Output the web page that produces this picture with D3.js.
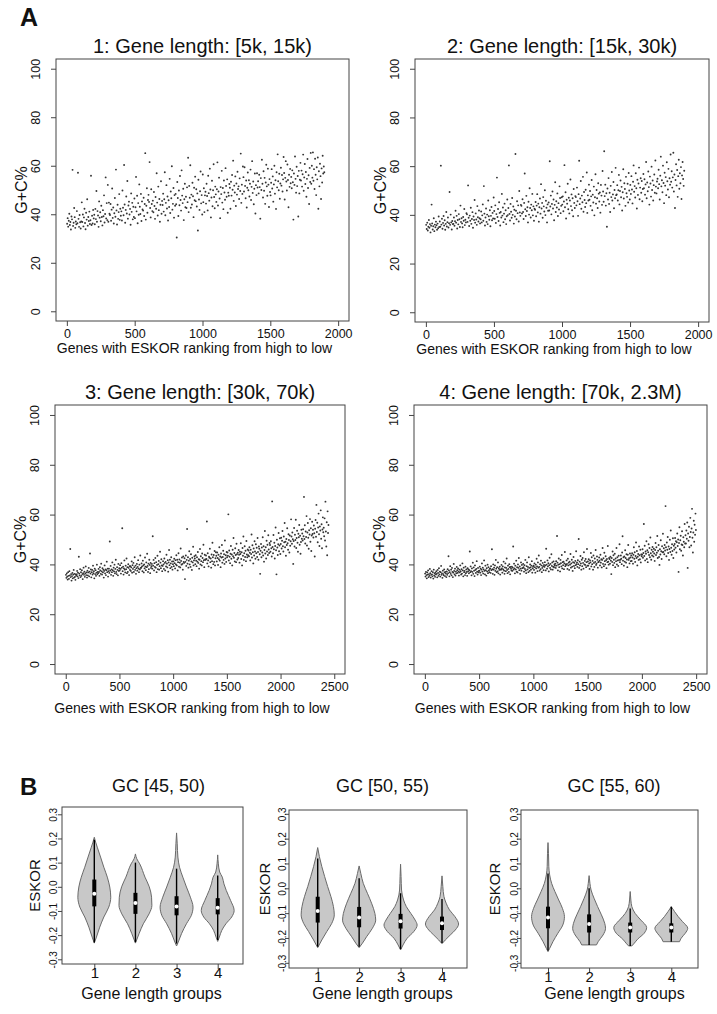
<!DOCTYPE html>
<html>
<head>
<meta charset="utf-8">
<title>G+C% by ESKOR ranking</title>
<script src="https://d3js.org/d3.v7.min.js"></script>
<style>
  body { margin: 0; background: #fff; }
  text { font-family: "Liberation Sans", Arial, Helvetica, sans-serif; fill: #111; }
</style>
</head>
<body>
<div id="fig"></div>
<script>
// ---------------- panel A data ----------------
// G+C% of genes in ESKOR rank order (high to low), read off every 4th gene
var rankStep = 4
var yTicksA = [0, 20, 40, 60, 80, 100]
var gc1 = [
36.1,38.4,34.9,37.3,40.2,35.6,36.8,33.7,39.1,37.9,58.3,35.2,36.5,42.6,38.8,34.4,37.0,35.9,41.3,36.3,57.1,38.1,34.8,39.7,36.7,
34.1,37.0,44.9,36.8,39.9,35.0,38.7,42.3,36.4,33.8,40.6,37.8,46.2,35.3,38.9,37.2,41.1,36.0,37.5,55.9,35.6,39.4,36.2,41.8,38.3,
39.8,35.9,42.2,38.0,49.6,36.9,41.3,39.5,34.8,45.3,38.6,40.8,37.1,43.5,38.9,35.4,41.7,39.2,47.8,36.6,40.1,55.2,38.3,44.6,37.6,
52.1,36.9,44.8,40.2,39.7,44.2,37.3,41.9,50.6,38.5,42.8,36.2,40.4,46.7,39.0,58.4,41.6,35.8,43.9,38.1,40.9,48.3,37.7,42.3,39.4,
41.2,37.4,49.8,42.7,39.6,60.3,44.0,36.5,41.8,47.3,40.3,53.7,38.2,43.6,45.2,39.9,42.2,35.7,48.6,41.0,44.7,37.9,43.1,38.9,46.5,
38.4,42.9,55.4,41.2,47.6,36.3,44.6,39.8,52.3,43.1,40.1,48.4,37.2,45.3,42.0,41.5,46.8,39.3,44.2,65.2,37.8,43.5,50.7,40.6,45.9,
48.0,45.1,61.5,42.6,38.7,50.3,44.2,41.3,45.6,40.8,49.2,43.4,38.1,47.1,42.3,56.9,44.8,39.5,51.4,41.7,46.3,36.9,43.9,53.6,40.2,
45.5,43.8,48.5,41.1,46.2,57.3,39.6,44.7,52.0,42.4,47.3,37.4,45.8,43.0,54.6,40.5,49.4,46.6,59.8,41.9,44.3,50.8,38.6,47.9,43.5,
48.4,44.1,30.4,53.3,46.7,39.3,49.8,43.7,55.8,45.9,41.5,58.1,47.7,44.6,50.5,37.6,46.2,52.6,42.9,47.2,42.6,51.1,45.0,63.3,40.9,
51.7,46.8,60.2,42.7,48.1,44.0,53.0,47.4,38.8,50.9,45.8,55.5,45.4,50.3,43.2,48.6,33.3,54.2,46.1,41.8,49.5,57.6,44.5,47.9,39.9,
56.4,45.0,50.7,40.9,47.8,49.3,44.4,52.6,47.5,41.6,55.9,48.7,45.6,58.8,50.2,38.7,46.9,53.8,43.3,49.9,60.6,47.1,42.5,51.4,48.2,
45.1,50.3,61.4,43.6,49.4,55.1,46.5,38.4,51.2,48.3,57.9,44.8,50.8,42.1,53.9,49.0,46.0,59.0,51.7,47.2,54.4,40.6,48.9,47.6,52.5,
50.9,42.3,53.4,47.7,56.2,50.1,62.1,45.5,51.8,49.0,55.6,43.4,52.7,48.1,57.5,50.4,51.5,46.3,54.8,49.6,65.0,44.7,52.2,48.4,59.7,
55.3,49.4,59.4,51.7,46.6,53.9,42.8,50.9,57.2,49.9,54.0,47.3,52.6,58.4,45.9,51.3,61.9,48.8,53.5,44.1,50.5,56.8,40.3,52.0,47.9,
56.9,51.0,53.6,48.6,56.3,51.2,38.2,54.9,50.0,62.5,52.6,46.9,57.7,49.7,55.0,44.3,53.1,60.4,51.5,47.6,58.8,52.2,43.0,54.5,49.2,
47.8,53.0,58.6,50.6,55.6,45.2,52.3,60.0,48.5,54.0,42.2,57.3,51.1,64.7,53.6,49.9,56.7,46.4,52.7,59.2,51.8,56.2,49.4,54.4,63.6,
57.0,46.1,55.0,61.9,53.5,49.8,60.5,54.1,42.9,56.3,51.3,58.7,52.8,55.4,50.7,58.1,53.2,37.8,56.8,52.1,63.8,54.6,48.9,59.6,51.6,
55.8,39.1,57.9,48.6,54.2,61.2,53.9,58.0,51.4,56.5,64.6,49.7,55.2,60.7,52.5,57.4,47.2,54.6,62.8,50.8,56.1,44.2,59.1,53.3,65.3,
52.6,60.0,55.1,65.5,53.8,58.6,50.4,62.9,56.3,47.9,59.4,54.4,63.4,42.3,57.7,51.5,60.8,55.7,46.3,58.9,53.1,64.1,56.8,59.7,57.3]
var gc2 = [
35.9,34.2,36.8,33.6,35.1,37.9,34.7,36.2,32.8,35.5,44.2,36.5,34.0,35.3,38.6,33.3,36.0,34.9,37.2,35.7,33.9,36.4,34.5,39.3,35.0,
37.3,35.1,60.2,36.0,38.4,34.3,36.7,39.5,35.6,37.8,33.9,36.3,41.2,35.2,37.0,38.9,34.8,36.6,49.4,35.9,40.1,36.9,34.0,37.5,36.2,
36.3,38.9,35.5,37.4,41.7,36.8,39.6,34.4,37.9,36.1,40.3,38.2,35.0,43.8,37.1,38.6,36.5,34.9,39.1,37.6,42.4,35.8,38.0,36.9,40.7,
40.2,37.1,52.1,38.8,35.4,39.7,37.6,42.9,36.3,38.3,41.1,34.7,39.3,37.9,46.1,36.8,40.6,38.1,35.9,43.6,39.0,37.3,41.8,38.6,36.5,
38.2,41.4,36.9,39.8,44.3,37.6,51.8,40.5,35.6,38.9,42.6,37.1,40.1,36.2,45.9,39.4,38.0,41.9,35.3,39.6,43.2,37.8,40.8,38.5,47.1,
41.6,38.4,43.9,36.7,40.3,55.3,39.1,42.4,37.5,45.2,40.8,35.6,41.2,38.9,48.6,39.7,43.0,37.0,40.5,44.6,38.2,41.9,36.2,39.4,46.3,
39.9,42.8,60.3,40.4,37.7,44.5,41.3,38.8,46.9,40.0,43.4,36.4,42.1,39.3,65.0,41.7,38.2,45.6,40.7,43.9,37.3,49.8,41.0,39.6,44.1,
43.7,40.6,46.4,41.2,38.3,44.9,57.0,42.3,39.5,47.8,41.6,43.1,36.9,45.4,40.1,50.9,42.8,38.9,44.2,41.9,48.6,39.8,43.5,37.6,42.5,
42.1,45.3,39.4,43.8,48.5,41.0,44.6,37.2,43.1,46.7,40.5,52.6,42.6,44.9,38.8,47.3,43.5,41.4,50.1,39.9,45.8,42.9,36.9,44.3,41.7,
45.1,41.8,62.0,43.4,47.9,40.2,44.5,49.6,42.6,46.3,37.8,44.1,53.4,41.2,45.6,43.0,48.8,39.5,44.8,42.2,51.7,46.9,40.7,43.7,47.2,
44.2,47.6,41.5,45.5,60.4,43.1,49.3,38.5,46.2,44.6,52.8,42.3,47.0,40.6,45.9,54.5,43.6,48.4,41.9,46.8,39.4,50.6,44.9,42.8,47.7,
47.3,43.9,51.2,45.6,39.6,48.5,62.2,44.4,46.7,53.9,42.5,47.9,45.2,55.6,41.3,49.4,46.1,43.2,50.3,44.8,57.4,40.8,48.0,45.9,52.4,
46.2,49.8,43.7,47.6,54.3,41.9,48.3,45.1,51.6,39.8,47.2,56.7,44.6,50.2,46.8,42.8,53.0,48.7,45.5,49.2,40.9,52.3,47.9,44.1,58.0,
49.6,45.4,66.1,47.7,52.4,43.8,48.9,35.1,50.8,46.3,55.1,44.5,49.1,41.2,51.9,47.3,57.6,45.9,48.4,53.5,42.7,50.2,46.8,59.3,48.1,
48.4,52.2,45.9,50.1,56.4,44.3,49.8,54.1,47.2,51.5,41.8,49.3,58.7,46.7,53.0,50.6,43.7,55.6,48.9,47.4,52.8,45.1,57.2,50.0,46.3,
52.3,48.6,55.9,50.4,44.7,53.6,60.3,49.5,51.8,47.1,57.1,50.9,42.6,54.4,48.2,52.9,59.4,46.4,51.2,55.0,49.1,53.9,45.6,50.6,56.8,
50.9,54.6,48.3,52.5,61.7,46.8,53.3,49.7,57.8,51.4,44.2,55.7,52.9,47.5,59.8,50.2,54.1,45.9,52.2,56.6,49.1,62.3,51.6,48.8,53.7,
54.8,50.9,58.5,52.6,46.3,56.1,63.9,51.7,54.2,49.3,60.2,53.1,44.8,57.3,52.0,55.5,48.1,61.6,53.8,50.4,58.9,47.2,55.0,52.4,64.8,
53.6,57.9,51.2,55.4,65.5,49.6,56.6,42.8,54.3,60.8,52.1,58.4,47.4,55.9,62.6,50.7,57.1,53.0,59.6,46.5,56.2,61.7,54.7,51.9,58.1]
var gc3 = [
35.8,34.6,36.4,35.1,33.9,36.9,35.4,34.2,37.3,35.6,46.2,34.9,36.1,33.5,35.3,36.6,34.4,35.9,37.8,34.7,36.2,35.0,33.8,36.0,35.5,
36.0,37.4,35.2,36.7,34.5,43.1,36.3,35.6,38.1,34.9,36.9,35.4,37.7,36.1,34.1,36.5,38.7,35.8,37.1,35.0,36.4,39.2,35.7,36.8,34.7,
37.5,35.6,36.8,38.6,35.2,37.1,44.4,36.3,38.0,34.8,36.9,37.8,35.9,39.5,36.5,37.3,34.4,38.3,36.1,37.7,35.4,36.7,39.9,36.0,37.0,
36.5,38.2,37.0,35.4,38.9,37.6,36.2,40.3,37.2,35.9,38.5,36.8,37.9,34.7,37.4,39.6,36.4,38.0,35.7,37.7,41.1,36.9,38.3,35.1,37.3,
38.3,36.6,49.2,37.5,39.4,35.8,38.0,36.9,40.8,37.7,35.4,38.7,37.2,39.9,36.4,38.2,41.9,37.0,36.1,38.9,37.8,35.6,40.2,37.4,38.5,
37.6,39.7,38.2,36.3,40.5,38.7,54.5,37.3,39.1,35.9,38.4,41.6,37.9,36.8,39.5,38.1,42.4,36.5,38.9,37.0,40.1,38.6,35.7,39.3,37.8,
39.3,37.4,38.8,41.2,36.7,39.7,38.2,40.6,37.0,38.9,42.9,37.8,39.5,36.2,38.5,40.2,37.5,39.0,41.7,38.3,36.9,39.9,38.0,43.6,38.6,
38.7,40.4,39.2,37.3,41.5,39.6,36.8,40.0,38.4,42.8,39.1,37.7,40.8,38.9,44.3,39.4,37.0,40.3,38.1,41.9,39.8,36.5,40.6,38.6,39.3,
40.2,38.3,51.3,39.5,41.8,37.6,40.5,39.0,42.6,38.7,40.9,36.9,39.8,43.5,38.1,40.1,41.4,37.9,39.3,45.1,40.7,38.5,42.1,39.6,37.3,
39.4,41.3,40.0,38.2,42.4,40.6,37.6,41.0,39.2,43.9,40.3,38.8,41.7,37.1,40.8,45.8,39.7,41.9,38.5,40.4,42.9,39.0,41.2,37.9,40.1,
41.2,39.3,42.3,40.5,38.4,41.7,40.0,43.7,39.6,41.9,37.6,40.9,44.5,39.1,42.0,40.7,38.8,46.4,41.4,39.9,42.8,40.2,37.9,43.2,41.0,
40.6,42.5,34.1,41.0,43.6,39.4,41.8,54.2,40.3,42.9,38.7,41.5,45.3,40.0,42.2,39.0,44.1,41.2,37.8,42.7,40.8,47.1,39.6,41.6,43.3,
42.4,40.1,43.7,41.5,39.3,42.9,41.1,45.0,40.6,42.1,38.3,41.9,46.2,40.0,43.3,41.3,39.6,44.4,42.6,40.9,47.9,41.7,38.9,43.9,42.0,
41.9,43.6,42.2,57.2,40.4,44.5,41.6,39.2,43.1,42.7,46.3,40.9,42.4,38.7,44.0,41.3,48.7,42.9,40.1,43.8,41.0,45.4,39.6,42.5,44.9,
43.5,41.2,44.8,42.6,39.8,43.9,42.1,46.9,41.5,43.2,38.9,44.4,42.8,47.8,40.7,43.0,45.5,41.8,44.1,40.2,49.6,42.4,43.7,41.0,45.0,
42.9,44.8,43.5,60.1,41.6,45.6,43.1,40.5,44.3,47.4,42.3,44.0,39.6,45.9,43.3,50.6,42.7,44.6,41.2,46.5,43.8,40.9,48.3,44.1,42.0,
44.7,42.6,45.8,43.9,40.7,45.1,44.2,48.5,42.2,44.9,39.6,46.6,43.5,51.2,41.8,44.5,47.3,43.0,45.5,41.3,49.4,44.0,42.9,46.0,43.7,
45.6,43.3,46.9,44.7,41.6,45.9,44.2,52.0,42.8,47.7,44.9,40.4,46.4,43.6,49.3,45.2,42.3,48.1,44.5,46.7,43.0,50.6,45.0,41.9,47.2,
46.3,44.1,36.2,45.5,48.2,42.9,46.8,44.8,50.9,43.6,47.3,41.1,45.8,53.4,44.4,46.9,42.4,49.5,45.2,47.9,43.8,51.7,46.0,44.6,48.6,
47.8,45.1,49.3,46.5,43.2,65.3,47.0,44.5,51.8,46.1,48.7,42.4,47.4,54.8,45.7,36.0,49.9,46.8,43.8,48.1,52.6,45.3,47.6,50.5,44.2,
48.2,50.7,46.4,49.5,53.4,47.3,45.2,51.2,48.9,56.6,46.9,49.1,43.5,50.2,47.8,54.5,48.5,45.9,52.1,49.8,44.8,51.6,47.5,49.3,58.1,
51.2,48.3,52.8,50.1,40.2,49.4,54.6,47.2,51.9,49.8,57.9,46.6,50.6,53.5,48.7,45.1,52.3,50.9,55.8,47.9,51.5,44.3,49.0,53.9,50.3,
52.4,49.6,54.1,51.3,67.1,50.2,55.7,48.4,53.2,51.0,59.4,47.6,52.8,56.6,50.7,46.3,53.7,52.0,58.2,49.1,54.5,45.4,51.6,57.1,52.2,
53.9,50.8,55.6,52.5,43.2,54.3,57.8,51.1,63.9,53.0,56.7,48.9,54.8,60.4,52.1,47.4,55.2,53.6,61.7,50.3,56.1,46.5,54.0,58.9,52.9,
54.7,51.3,58.5,49.6,65.2,53.2,47.2,56.9,43.7,61.3,52.6,55.8]
var gc4 = [
36.3,35.1,37.0,35.7,34.4,36.8,35.9,37.6,34.9,36.1,35.4,38.2,36.5,34.7,35.8,37.3,36.0,35.2,36.9,34.3,37.9,35.6,36.4,35.0,36.7,
35.9,37.3,36.2,34.8,37.8,36.6,35.4,38.5,36.0,37.1,35.1,36.9,39.4,35.8,36.4,34.6,37.5,36.1,35.6,38.0,36.8,35.3,37.0,36.3,34.9,
37.2,35.8,38.1,36.5,43.3,37.6,35.2,36.9,39.3,36.2,37.9,35.6,38.6,37.0,34.9,36.7,40.2,37.4,36.0,38.3,35.5,37.1,36.4,39.0,37.7,
36.6,38.4,37.1,35.5,37.9,36.8,39.6,37.3,35.9,38.1,36.3,40.4,37.6,35.2,38.7,36.9,37.4,35.7,39.1,36.5,38.0,37.0,35.4,38.5,37.2,
38.0,36.4,37.7,45.2,36.9,39.2,37.3,35.6,38.4,37.0,40.7,36.2,38.8,37.5,35.3,39.6,37.8,36.6,38.2,41.3,37.1,35.9,38.6,36.8,37.4,
37.5,39.1,36.7,38.3,35.7,37.9,40.4,37.1,38.7,36.3,38.0,41.6,37.4,36.0,39.5,37.7,35.5,38.5,37.2,39.9,36.5,38.9,37.6,36.9,38.2,
38.4,36.6,39.3,37.7,46.1,38.1,36.2,40.0,37.9,38.7,35.8,39.6,37.4,41.8,38.3,36.9,38.9,37.2,40.8,36.4,38.5,37.8,39.1,35.9,38.0,
37.9,39.8,38.4,36.7,39.2,38.0,41.1,37.5,36.2,38.8,40.4,37.3,38.6,42.4,37.8,36.5,39.5,38.2,37.0,40.1,38.9,36.0,39.0,38.3,37.6,
39.1,37.4,38.7,47.2,37.9,40.3,38.4,36.4,39.5,38.0,41.5,37.1,38.9,36.8,40.0,38.6,42.6,37.7,39.2,36.2,38.3,40.8,37.5,39.8,38.5,
38.5,40.2,38.9,37.1,39.7,38.2,41.8,37.6,36.5,39.3,40.8,38.0,39.0,36.9,42.9,38.6,37.4,40.0,38.8,37.9,39.5,41.3,36.7,38.4,39.1,
39.5,37.8,40.4,38.9,36.7,39.9,38.4,42.3,39.2,37.3,40.8,38.7,43.6,39.0,37.5,40.1,38.1,41.5,39.6,36.9,38.6,40.6,39.3,37.7,39.8,
39.0,40.9,39.6,37.6,46.3,39.9,38.3,41.6,39.2,40.5,37.2,39.7,42.7,38.6,40.2,38.0,44.1,39.4,40.8,37.9,39.1,41.2,38.8,40.0,39.5,
40.3,38.6,41.3,39.5,51.4,40.7,37.6,39.9,42.4,38.9,40.1,37.2,41.8,40.5,39.2,43.8,38.4,40.9,39.7,41.1,38.1,40.4,45.0,39.3,40.0,
39.8,41.6,40.2,38.2,42.3,39.6,40.7,37.8,41.1,39.9,44.2,38.7,40.4,41.9,39.1,37.4,40.9,43.0,39.4,40.6,38.5,41.4,39.7,45.3,40.1,
40.8,39.0,41.7,40.1,50.2,38.6,41.1,39.6,43.4,40.4,37.9,41.9,39.3,42.6,40.6,38.3,44.9,40.0,41.4,39.8,42.2,38.9,40.9,46.2,39.5,
41.2,39.5,42.1,40.4,38.2,41.6,40.8,44.6,39.2,42.9,40.1,41.4,37.9,43.6,40.6,39.0,42.4,41.0,45.8,39.8,40.3,43.2,41.8,38.7,40.9,
41.0,42.8,41.5,39.6,43.9,40.7,42.1,38.8,41.8,46.6,40.2,42.5,39.3,44.7,41.3,40.0,43.3,41.7,38.5,42.2,40.9,47.4,41.1,39.9,42.6,
42.2,40.3,43.1,41.5,36.1,42.6,41.0,45.2,39.7,43.7,41.9,40.6,44.3,38.9,42.4,41.3,46.6,40.0,42.9,41.6,39.4,43.5,41.8,48.1,40.9,
41.9,43.6,42.3,40.1,44.8,51.3,41.5,42.9,39.5,43.2,41.1,45.7,42.6,40.7,44.1,42.0,38.9,43.9,47.8,41.8,42.5,40.4,44.4,42.8,41.3,
43.6,41.4,44.5,42.8,40.3,43.9,46.9,42.3,44.9,41.0,43.4,48.8,42.6,45.4,39.6,43.1,44.2,41.8,47.2,43.7,42.1,45.9,40.8,44.0,43.3,
44.0,46.1,42.7,44.6,56.2,43.4,47.5,41.6,45.2,44.3,49.3,42.2,45.7,40.9,44.9,48.1,43.8,46.6,42.9,50.8,44.5,41.9,45.9,43.6,47.0,
45.1,43.2,46.3,44.4,41.4,45.8,48.6,43.8,46.9,44.7,51.4,42.6,45.5,47.8,43.0,39.8,46.1,44.0,49.7,45.3,42.2,47.3,44.9,52.3,45.0,
46.5,44.1,47.8,45.6,63.4,46.9,43.3,48.8,45.9,51.0,44.6,47.2,41.8,46.2,49.9,45.0,53.6,46.7,43.9,48.1,45.4,50.5,42.6,47.5,46.0,
48.2,50.6,46.7,49.3,44.8,48.9,52.4,47.4,50.0,37.0,48.6,54.9,46.1,49.7,51.5,45.5,48.0,53.3,47.8,43.6,50.9,49.1,46.9,56.2,48.4,
51.7,48.4,53.6,50.3,56.8,38.6,52.4,49.5,55.1,46.9,51.0,58.7,53.0,47.6,54.4,62.3,50.7,44.8,52.8,57.5,49.1,55.9,51.9,60.4,53.8]

// ---------------- panel B data ----------------
var groups = [1, 2, 3, 4]
var yTicksB = [-0.3, -0.2, -0.1, 0, 0.1, 0.2, 0.3]
var gcBins = ["GC [45, 50)", "GC [50, 55)", "GC [55, 60)"]
// violin outlines per gene length group: [ESKOR, density relative to the group's peak]
var shape45 = [
  [[0.205,0],[0.185,0.08],[0.164,0.18],[0.123,0.38],[0.081,0.58],[0.040,0.79],[-0.001,0.94],[-0.043,1.0],[-0.084,0.88],[-0.125,0.58],[-0.167,0.33],[-0.208,0.13],[-0.233,0]],
  [[0.136,0],[0.116,0.08],[0.095,0.26],[0.040,0.58],[0.0,0.84],[-0.043,0.98],[-0.077,1.0],[-0.112,0.83],[-0.153,0.48],[-0.194,0.22],[-0.233,0]],
  [[0.223,0],[0.178,0.04],[0.123,0.08],[0.081,0.18],[0.040,0.38],[-0.001,0.6],[-0.043,0.84],[-0.084,1.0],[-0.118,0.9],[-0.153,0.6],[-0.194,0.3],[-0.229,0.1],[-0.245,0]],
  [[0.132,0],[0.095,0.04],[0.061,0.12],[0.040,0.28],[0.012,0.38],[-0.015,0.52],[-0.056,0.78],[-0.098,1.0],[-0.125,0.85],[-0.153,0.5],[-0.180,0.25],[-0.208,0.1],[-0.226,0]]
]
var shape50 = [
  [[0.164,0],[0.128,0.1],[0.087,0.25],[0.047,0.42],[0.007,0.6],[-0.034,0.8],[-0.074,0.95],[-0.107,1.0],[-0.141,0.85],[-0.174,0.55],[-0.208,0.25],[-0.239,0]],
  [[0.090,0],[0.060,0.1],[0.020,0.25],[-0.020,0.5],[-0.060,0.75],[-0.101,0.95],[-0.128,1.0],[-0.161,0.8],[-0.195,0.45],[-0.221,0.2],[-0.239,0]],
  [[0.097,0],[0.047,0.03],[-0.007,0.06],[-0.047,0.18],[-0.074,0.35],[-0.101,0.62],[-0.128,0.88],[-0.148,1.0],[-0.174,0.8],[-0.201,0.4],[-0.228,0.15],[-0.248,0]],
  [[0.050,0],[0.007,0.05],[-0.034,0.12],[-0.060,0.25],[-0.087,0.45],[-0.114,0.78],[-0.144,1.0],[-0.168,0.8],[-0.188,0.5],[-0.208,0.2],[-0.223,0]]
]
var shape55 = [
  [[0.184,0],[0.141,0.03],[0.087,0.05],[0.054,0.1],[0.020,0.22],[-0.013,0.42],[-0.047,0.65],[-0.081,0.88],[-0.114,1.0],[-0.148,0.9],[-0.181,0.6],[-0.215,0.3],[-0.242,0.1],[-0.255,0]],
  [[0.051,0],[0.020,0.05],[-0.007,0.12],[-0.040,0.3],[-0.074,0.52],[-0.107,0.75],[-0.141,0.95],[-0.161,1.0],[-0.188,0.85],[-0.215,0.55],[-0.228,0.45]],
  [[-0.013,0],[-0.047,0.04],[-0.074,0.1],[-0.101,0.3],[-0.128,0.65],[-0.158,1.0],[-0.181,0.85],[-0.205,0.45],[-0.221,0.25],[-0.232,0.1]],
  [[-0.074,0],[-0.094,0.2],[-0.114,0.42],[-0.134,0.68],[-0.161,1.0],[-0.181,0.85],[-0.201,0.6],[-0.215,0.5]]
]
// box stats per group: [lower whisker, Q1, median, Q3, upper whisker]
var stats45 = [[-0.23,-0.081,-0.029,0.030,0.195], [-0.229,-0.112,-0.067,-0.025,0.10], [-0.235,-0.118,-0.081,-0.039,0.075], [-0.22,-0.114,-0.087,-0.047,0.047]]
var stats50 = [[-0.235,-0.138,-0.091,-0.034,0.12], [-0.235,-0.157,-0.118,-0.075,0.04], [-0.245,-0.162,-0.133,-0.103,-0.02], [-0.22,-0.168,-0.141,-0.114,-0.043]]
var stats55 = [[-0.25,-0.161,-0.118,-0.074,0.06], [-0.228,-0.178,-0.144,-0.105,0.0], [-0.232,-0.178,-0.158,-0.138,-0.081], [-0.215,-0.178,-0.158,-0.141,-0.074]]

// ---------------- drawing ----------------
var svg = d3.select("#fig").append("svg")
    .attr("width", 717)
    .attr("height", 1014)

var axisColor = "#444"

function styleAxis(ax) {
    ax.select(".domain").remove()
    ax.selectAll("line").attr("stroke", axisColor)
}

// panel A: scatter plots
var panelsA = [
    {title: "1: Gene length: [5k, 15k)", values: gc1, xMax: 2000, left: 56, top: 59, right: 349, bottom: 321, labelGap: 32},
    {title: "2: Gene length: [15k, 30k)", values: gc2, xMax: 2000, left: 415, top: 59, right: 709, bottom: 322, labelGap: 32},
    {title: "3: Gene length: [30k, 70k)", values: gc3, xMax: 2500, left: 55, top: 405, right: 345, bottom: 674, labelGap: 39},
    {title: "4: Gene length: [70k, 2.3M)", values: gc4, xMax: 2500, left: 414, top: 405, right: 707, bottom: 674, labelGap: 39}
]

panelsA.forEach(function(p) {
    var x = d3.scaleLinear().domain([-0.04 * p.xMax, 1.04 * p.xMax]).range([p.left, p.right])
    var y = d3.scaleLinear().domain([-4, 104]).range([p.bottom, p.top])
    var g = svg.append("g")

    g.append("g")
        .attr("transform", "translate(0," + p.bottom + ")")
        .call(d3.axisBottom(x).tickValues(d3.range(0, p.xMax + 1, 500)).tickSize(5).tickFormat(d3.format("d")))
        .call(styleAxis)
        .selectAll("text")
            .attr("y", 17).attr("dy", null)
            .style("font-size", "12.5px")

    g.append("g")
        .attr("transform", "translate(" + p.left + ",0)")
        .call(d3.axisLeft(y).tickValues(yTicksA).tickSize(5))
        .call(styleAxis)
        .selectAll("text")
            .attr("x", null).attr("dy", null)
            .attr("text-anchor", "middle")
            .attr("transform", "translate(-16,0) rotate(-90)")
            .style("font-size", "12.5px")

    g.append("g").selectAll("circle")
        .data(p.values)
        .enter()
        .append("circle")
            .attr("cx", function(d, i) { return x(i * rankStep + 2) })
            .attr("cy", function(d) { return y(d) })
            .attr("r", 0.95)
            .attr("fill", "#333")

    g.append("rect")
        .attr("x", p.left).attr("y", p.top)
        .attr("width", p.right - p.left).attr("height", p.bottom - p.top)
        .attr("fill", "none").attr("stroke", axisColor)

    g.append("text")
        .attr("x", (p.left + p.right) / 2).attr("y", p.top - 6)
        .attr("text-anchor", "middle").style("font-size", "20px")
        .text(p.title)
    g.append("text")
        .attr("x", (p.left + p.right) / 2 - 8).attr("y", p.bottom + p.labelGap)
        .attr("text-anchor", "middle").style("font-size", "14px")
        .text("Genes with ESKOR ranking from high to low")
    g.append("text")
        .attr("transform", "translate(" + (p.left - 29) + "," + ((p.top + p.bottom) / 2) + ") rotate(-90)")
        .attr("text-anchor", "middle").style("font-size", "16px")
        .text("G+C%")
})

// panel B: violin plots
var panelsB = [
    {title: gcBins[0], shapes: shape45, stats: stats45, left: 62, top: 807, right: 243, bottom: 964,
     cx: [94.3, 217.7], cy: [959.3, 814.3], titleX: 158.5, labelX: 151.5, tickGap: 5.5, eskorX: 40},
    {title: gcBins[1], shapes: shape50, stats: stats50, left: 289, top: 810, right: 467, bottom: 968,
     cx: [317.7, 442], cy: [962.8, 813.8], titleX: 382.5, labelX: 382.5, tickGap: 3, eskorX: 270},
    {title: gcBins[2], shapes: shape55, stats: stats55, left: 521, top: 810, right: 698, bottom: 968,
     cx: [548, 671.3], cy: [962.8, 813.8], titleX: 614, labelX: 614.5, tickGap: 3, eskorX: 500}
]

panelsB.forEach(function(p) {
    var x = d3.scaleLinear().domain([1, 4]).range(p.cx)
    var y = d3.scaleLinear().domain([-0.3, 0.3]).range(p.cy)
    var halfW = 0.4 * (x(2) - x(1))
    var g = svg.append("g")

    g.append("g")
        .attr("transform", "translate(0," + p.bottom + ")")
        .call(d3.axisBottom(x).tickValues(groups).tickSize(5).tickFormat(d3.format("d")))
        .call(styleAxis)
        .selectAll("text")
            .attr("y", 14).attr("dy", null)
            .style("font-size", "15px")

    g.append("g")
        .attr("transform", "translate(" + p.left + ",0)")
        .call(d3.axisLeft(y).tickValues(yTicksB).tickSize(4).tickFormat(function(d) { return d.toFixed(1) }))
        .call(styleAxis)
        .selectAll("text")
            .attr("x", null).attr("dy", null)
            .attr("text-anchor", "middle")
            .attr("transform", "translate(" + (-p.tickGap) + ",0) rotate(-90)")
            .style("font-size", "10px")

    groups.forEach(function(grp, i) {
        var cx = x(grp)
        var area = d3.area()
            .y(function(d) { return y(d[0]) })
            .x0(function(d) { return cx - halfW * d[1] })
            .x1(function(d) { return cx + halfW * d[1] })
            .curve(d3.curveMonotoneY)
        g.append("path")
            .attr("d", area(p.shapes[i].slice().reverse()))
            .attr("fill", "#c8c8c8")
            .attr("stroke", "#6a6a6a")
            .attr("stroke-width", 1)
        var s = p.stats[i]
        g.append("line")
            .attr("x1", cx).attr("x2", cx)
            .attr("y1", y(s[0])).attr("y2", y(s[4]))
            .attr("stroke", "#000").attr("stroke-width", 1.4)
        g.append("rect")
            .attr("x", cx - 2).attr("width", 4)
            .attr("y", y(s[3])).attr("height", y(s[1]) - y(s[3]))
            .attr("fill", "#000")
        g.append("circle")
            .attr("cx", cx).attr("cy", y(s[2])).attr("r", 2)
            .attr("fill", "#fff")
    })

    g.append("rect")
        .attr("x", p.left).attr("y", p.top)
        .attr("width", p.right - p.left).attr("height", p.bottom - p.top)
        .attr("fill", "none").attr("stroke", axisColor)

    g.append("text")
        .attr("x", p.titleX).attr("y", 792)
        .attr("text-anchor", "middle").style("font-size", "18px")
        .text(p.title)
    g.append("text")
        .attr("x", p.labelX).attr("y", 999)
        .attr("text-anchor", "middle").style("font-size", "16px")
        .text("Gene length groups")
    g.append("text")
        .attr("transform", "translate(" + p.eskorX + "," + ((p.top + p.bottom) / 2) + ") rotate(-90)")
        .attr("text-anchor", "middle").style("font-size", "15px")
        .text("ESKOR")
})

// panel letters
svg.append("text").attr("x", 20).attr("y", 26)
    .style("font-size", "25px").style("font-weight", "bold").text("A")
svg.append("text").attr("x", 20).attr("y", 795)
    .style("font-size", "24px").style("font-weight", "bold").text("B")
</script>
</body>
</html>
